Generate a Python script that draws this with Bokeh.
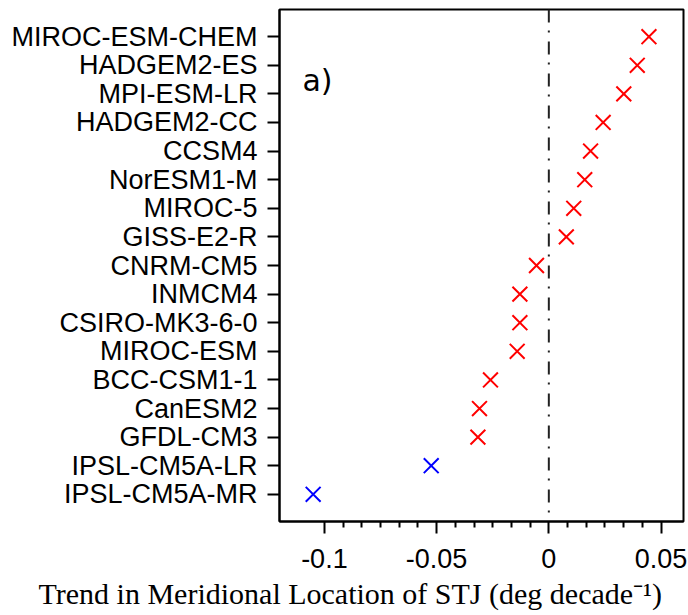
from bokeh.plotting import figure
from bokeh.models import FactorRange, FixedTicker, Span, Label, ColumnDataSource, Range1d, Title
from bokeh.embed import file_html
from bokeh.resources import INLINE
import numpy as np

# Models listed top to bottom as in the chart
models = ["MIROC-ESM-CHEM", "HADGEM2-ES", "MPI-ESM-LR", "HADGEM2-CC", "CCSM4",
          "NorESM1-M", "MIROC-5", "GISS-E2-R", "CNRM-CM5", "INMCM4",
          "CSIRO-MK3-6-0", "MIROC-ESM", "BCC-CSM1-1", "CanESM2", "GFDL-CM3",
          "IPSL-CM5A-LR", "IPSL-CM5A-MR"]
# Trend in meridional location of STJ (deg decade^-1)
trends = [0.0446, 0.0394, 0.0334, 0.0242, 0.0186,
          0.0160, 0.0111, 0.0078, -0.0055, -0.0129,
          -0.0129, -0.0141, -0.0260, -0.0309, -0.0316,
          -0.0524, -0.1050]
highlighted = ["IPSL-CM5A-LR", "IPSL-CM5A-MR"]

xtick_values = [-0.1, -0.05, 0, 0.05]
xtick_labels = ["-0.1", "-0.05", "0", "0.05"]

colors = ["#0000ff" if m in highlighted else "#ff0000" for m in models]
src = ColumnDataSource(dict(model=models, trend=trends, color=colors))

yr = FactorRange(factors=models[::-1], range_padding=0.45, range_padding_units="absolute")

p = figure(width=688, height=615, y_range=yr, x_range=Range1d(-0.12, 0.06),
           output_backend="svg", toolbar_location=None,
           min_border_left=279, min_border_right=5, min_border_top=9, min_border_bottom=94)

p.scatter(x="trend", y="model", source=src, marker="x", size=21, line_width=2,
          line_color="color")

p.add_layout(Span(location=0, dimension="height", line_color="#222222",
                  line_width=2, line_dash="13 8 2 9"))

# ticks
minor = []
for a, b in zip(xtick_values[:-1], xtick_values[1:]):
    minor += list(np.linspace(a, b, 7)[1:-1])
p.xaxis.ticker = FixedTicker(ticks=xtick_values, minor_ticks=minor)
p.xaxis.major_label_overrides = {v: l for v, l in zip(xtick_values, xtick_labels)}

for ax in (p.xaxis[0], p.yaxis[0]):
    ax.axis_line_width = 2
    ax.axis_line_color = "black"
    ax.major_tick_line_width = 2
    ax.major_tick_line_color = "black"
    ax.minor_tick_line_width = 2
    ax.minor_tick_line_color = "black"
    ax.major_tick_out = 12
    ax.major_tick_in = 0
    ax.minor_tick_out = 6
    ax.minor_tick_in = 0
    ax.major_label_text_font = "Liberation Sans"
    ax.major_label_text_font_size = "27px"
    ax.major_label_text_color = "black"
    ax.major_label_standoff = 10
p.xaxis.major_label_standoff = 15

p.xgrid.visible = False
p.ygrid.visible = False
p.outline_line_color = "black"
p.outline_line_width = 2
p.outline_line_alpha = 1

p.add_layout(Label(x=-0.1098, y=14.96, text="a)", text_font="DejaVu Sans",
                   text_font_size="30px", text_color="black", text_baseline="alphabetic"))

p.add_layout(Title(text="Trend in Meridional Location of STJ (deg decade\u207b\u00b9)",
                   align="left", offset=-241, standoff=9,
                   text_font="Liberation Serif", text_font_size="30px",
                   text_font_style="normal", text_color="black"), "below")

open("out.html", "w").write(file_html(p, INLINE))
